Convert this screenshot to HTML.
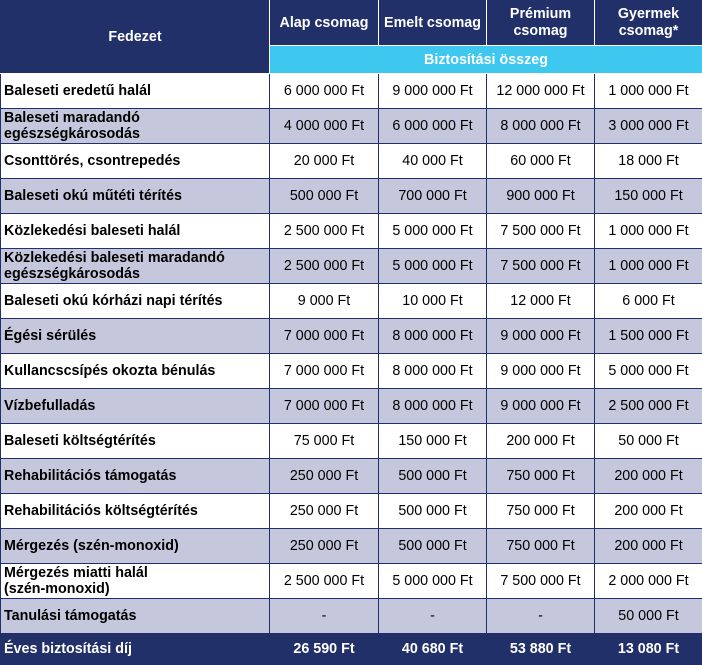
<!DOCTYPE html>
<html><head><meta charset="utf-8"><style>
html,body{margin:0;padding:0;width:702px;height:664px;overflow:hidden;background:#fff}
table{border-collapse:collapse;table-layout:fixed;position:absolute;left:0;top:0;width:702px;font-family:"Liberation Sans",Arial,sans-serif;font-size:14.3px;color:#000}
td{border:1px solid #22306a;padding:0;text-align:center;vertical-align:middle;line-height:16px;white-space:nowrap;overflow:hidden}
td.l{text-align:left;padding-left:3px;font-weight:bold}
tr.g td{background:#c5c8dc}
tr.d td{height:34px}
.h td{background:#22306a;color:#fff;font-weight:bold;border-color:#fff;line-height:17px}
.s td{background:#3ec8f0;color:#fff;font-weight:bold;height:27px;border-color:#fff}
.f td{background:#22306a;color:#fff;font-weight:bold;height:30px;border-color:#22306a}
</style></head><body>
<table>
<colgroup><col style="width:269px"><col style="width:109px"><col style="width:108px"><col style="width:108px"><col style="width:108px"></colgroup>
<tr class="h"><td rowspan="2" style="height:72px;border-left-color:#22306a;border-top-color:#22306a">Fedezet</td><td style="height:44px;border-top-color:#22306a">Alap csomag</td><td style="border-top-color:#22306a">Emelt csomag</td><td style="border-top-color:#22306a">Prémium<br>csomag</td><td style="border-top-color:#22306a;border-right-color:#22306a">Gyermek<br>csomag*</td></tr>
<tr class="s"><td colspan="4">Biztosítási összeg</td></tr>
<tr class="d"><td class="l">Baleseti eredetű halál</td><td>6 000 000 Ft</td><td>9 000 000 Ft</td><td>12 000 000 Ft</td><td>1 000 000 Ft</td></tr>
<tr class="d g"><td class="l">Baleseti maradandó<br>egészségkárosodás</td><td>4 000 000 Ft</td><td>6 000 000 Ft</td><td>8 000 000 Ft</td><td>3 000 000 Ft</td></tr>
<tr class="d"><td class="l">Csonttörés, csontrepedés</td><td>20 000 Ft</td><td>40 000 Ft</td><td>60 000 Ft</td><td>18 000 Ft</td></tr>
<tr class="d g"><td class="l">Baleseti okú műtéti térítés</td><td>500 000 Ft</td><td>700 000 Ft</td><td>900 000 Ft</td><td>150 000 Ft</td></tr>
<tr class="d"><td class="l">Közlekedési baleseti halál</td><td>2 500 000 Ft</td><td>5 000 000 Ft</td><td>7 500 000 Ft</td><td>1 000 000 Ft</td></tr>
<tr class="d g"><td class="l">Közlekedési baleseti maradandó<br>egészségkárosodás</td><td>2 500 000 Ft</td><td>5 000 000 Ft</td><td>7 500 000 Ft</td><td>1 000 000 Ft</td></tr>
<tr class="d"><td class="l">Baleseti okú kórházi napi térítés</td><td>9 000 Ft</td><td>10 000 Ft</td><td>12 000 Ft</td><td>6 000 Ft</td></tr>
<tr class="d g"><td class="l">Égési sérülés</td><td>7 000 000 Ft</td><td>8 000 000 Ft</td><td>9 000 000 Ft</td><td>1 500 000 Ft</td></tr>
<tr class="d"><td class="l">Kullancscsípés okozta bénulás</td><td>7 000 000 Ft</td><td>8 000 000 Ft</td><td>9 000 000 Ft</td><td>5 000 000 Ft</td></tr>
<tr class="d g"><td class="l">Vízbefulladás</td><td>7 000 000 Ft</td><td>8 000 000 Ft</td><td>9 000 000 Ft</td><td>2 500 000 Ft</td></tr>
<tr class="d"><td class="l">Baleseti költségtérítés</td><td>75 000 Ft</td><td>150 000 Ft</td><td>200 000 Ft</td><td>50 000 Ft</td></tr>
<tr class="d g"><td class="l">Rehabilitációs támogatás</td><td>250 000 Ft</td><td>500 000 Ft</td><td>750 000 Ft</td><td>200 000 Ft</td></tr>
<tr class="d"><td class="l">Rehabilitációs költségtérítés</td><td>250 000 Ft</td><td>500 000 Ft</td><td>750 000 Ft</td><td>200 000 Ft</td></tr>
<tr class="d g"><td class="l">Mérgezés (szén-monoxid)</td><td>250 000 Ft</td><td>500 000 Ft</td><td>750 000 Ft</td><td>200 000 Ft</td></tr>
<tr class="d"><td class="l">Mérgezés miatti halál<br>(szén-monoxid)</td><td>2 500 000 Ft</td><td>5 000 000 Ft</td><td>7 500 000 Ft</td><td>2 000 000 Ft</td></tr>
<tr class="d g"><td class="l">Tanulási támogatás</td><td>-</td><td>-</td><td>-</td><td>50 000 Ft</td></tr>
<tr class="f"><td class="l">Éves biztosítási díj</td><td>26 590 Ft</td><td>40 680 Ft</td><td>53 880 Ft</td><td>13 080 Ft</td></tr>
</table>
</body></html>
